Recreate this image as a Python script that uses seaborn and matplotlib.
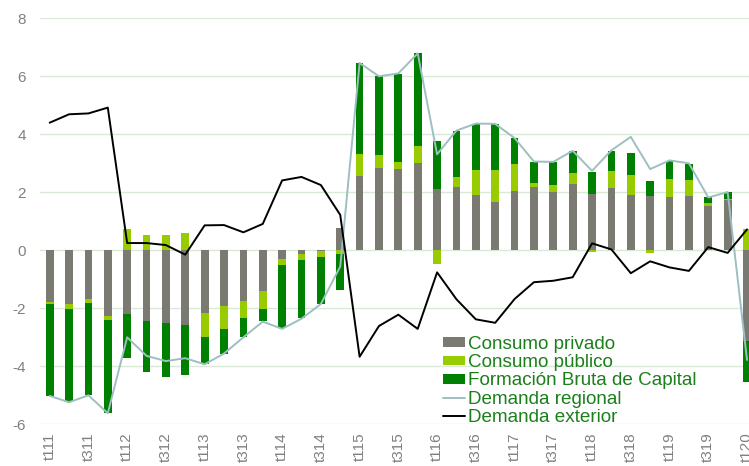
import matplotlib
matplotlib.use("Agg")
import matplotlib.pyplot as plt
import seaborn as sns
import numpy as np
import pandas as pd
from matplotlib.patches import Patch
from matplotlib.lines import Line2D

quarters = ["t111", "t211", "t311", "t411", "t112", "t212", "t312", "t412",
            "t113", "t213", "t313", "t413", "t114", "t214", "t314", "t414",
            "t115", "t215", "t315", "t415", "t116", "t216", "t316", "t416",
            "t117", "t217", "t317", "t417", "t118", "t218", "t318", "t418",
            "t119", "t219", "t319", "t419", "t120"]

consumo_privado = [-1.78, -1.85, -1.69, -2.26, -2.18, -2.45, -2.51, -2.56,
                   -2.16, -1.92, -1.75, -1.40, -0.30, -0.12, -0.02, 0.76,
                   2.57, 2.85, 2.82, 3.00, 2.11, 2.18, 1.92, 1.67,
                   2.05, 2.18, 2.01, 2.30, 1.93, 2.15, 1.90, 1.87,
                   1.84, 1.87, 1.54, 1.73, -3.13]
consumo_publico = [-0.08, -0.16, -0.14, -0.16, 0.75, 0.54, 0.54, 0.60,
                   -0.82, -0.78, -0.57, -0.62, -0.21, -0.22, -0.22, -0.13,
                   0.76, 0.44, 0.23, 0.61, -0.48, 0.36, 0.86, 1.10,
                   0.92, 0.14, 0.23, 0.38, -0.07, 0.60, 0.69, -0.09,
                   0.61, 0.55, 0.09, 0.05, 0.72]
formacion_capital = [-3.16, -3.23, -3.17, -3.20, -1.55, -1.74, -1.86, -1.75,
                     -0.95, -0.86, -0.68, -0.41, -2.18, -2.00, -1.62, -1.23,
                     3.13, 2.71, 3.03, 3.18, 1.66, 1.59, 1.59, 1.59,
                     0.91, 0.74, 0.80, 0.75, 0.78, 0.68, 0.75, 0.52,
                     0.62, 0.57, 0.20, 0.23, -1.41]
demanda_regional = [-5.02, -5.24, -5.00, -5.62, -3.00, -3.64, -3.82, -3.72,
                    -3.93, -3.56, -3.00, -2.46, -2.71, -2.36, -1.85, -0.56,
                    6.46, 6.00, 6.10, 6.79, 3.31, 4.13, 4.37, 4.36,
                    3.87, 3.06, 3.05, 3.43, 2.74, 3.45, 3.91, 2.80,
                    3.10, 3.00, 1.82, 2.01, -3.78]
demanda_exterior = [4.40, 4.69, 4.72, 4.92, 0.25, 0.25, 0.18, -0.15,
                    0.86, 0.87, 0.62, 0.91, 2.41, 2.53, 2.25, 1.22,
                    -3.67, -2.61, -2.22, -2.71, -0.76, -1.69, -2.38, -2.50,
                    -1.68, -1.10, -1.05, -0.93, 0.24, 0.03, -0.79, -0.38,
                    -0.59, -0.71, 0.11, -0.09, 0.72]

series_names = ["Consumo privado", "Consumo público", "Formación Bruta de Capital"]
line_names = ["Demanda regional", "Demanda exterior"]
yticks = [-6, -4, -2, 0, 2, 4, 6, 8]

c_priv = "#7A7A72"
c_pub = "#99CC00"
c_fbc = "#008000"
c_reg = "#9EBFC2"
c_ext = "#000000"
c_text = "#1B7F1B"
c_tick = "#808080"
c_grid = "#D8EAD6"

sns.set_theme(style="white")
plt.rcParams["font.family"] = ["Liberation Sans", "DejaVu Sans"]

fig = plt.figure(figsize=(7.49, 4.66), dpi=100)
ax = fig.add_axes([40 / 749, 41.7 / 466, 716.7 / 749, 406.0 / 466])

df = pd.DataFrame({"q": quarters,
                   series_names[0]: consumo_privado,
                   series_names[1]: consumo_publico,
                   series_names[2]: formacion_capital})

pos_base = np.zeros(len(quarters))
neg_base = np.zeros(len(quarters))
for name, col in zip(series_names, [c_priv, c_pub, c_fbc]):
    vals = df[name].to_numpy()
    bottom = np.where(vals >= 0, pos_base, neg_base)
    sns.barplot(x="q", y=name, data=df, order=quarters, color=col,
                saturation=1, errorbar=None, width=0.4, bottom=bottom,
                linewidth=0, ax=ax)
    pos_base = pos_base + np.where(vals >= 0, vals, 0)
    neg_base = neg_base + np.where(vals < 0, vals, 0)

xpos = np.arange(len(quarters))
sns.lineplot(x=xpos, y=demanda_regional, color=c_reg, linewidth=1.4,
             sort=False, estimator=None, ax=ax)
sns.lineplot(x=xpos, y=demanda_exterior, color=c_ext, linewidth=1.4,
             sort=False, estimator=None, ax=ax)

ax.set_xlim(-0.5, len(quarters) - 0.5)
ax.set_ylim(-6, 8)
ax.set_yticks(yticks)
ax.set_yticklabels([str(v) for v in yticks])
ax.set_xticks(xpos[::2])
ax.set_xticklabels(quarters[::2], rotation=90, va="top", ha="center")
ax.set_xlabel("")
ax.set_ylabel("")
ax.yaxis.grid(True, color=c_grid, linewidth=1.0)
ax.set_axisbelow(True)
for s in ax.spines.values():
    s.set_visible(False)
ax.tick_params(axis="y", length=0, pad=10, labelsize=11, labelcolor=c_tick)
ax.tick_params(axis="x", length=0, pad=6, labelsize=11, labelcolor=c_tick)

handles = [Patch(facecolor=c_priv, edgecolor="none"),
           Patch(facecolor=c_pub, edgecolor="none"),
           Patch(facecolor=c_fbc, edgecolor="none"),
           Line2D([], [], color=c_reg, linewidth=1.4),
           Line2D([], [], color=c_ext, linewidth=1.4)]
leg = fig.legend(handles, series_names + line_names, loc="upper left",
                 bbox_to_anchor=(443 / 749, 1 - 336 / 466), frameon=False,
                 fontsize=13.6, borderpad=0, borderaxespad=0,
                 handlelength=1.18, handleheight=0.42, handletextpad=0.15,
                 labelspacing=0.065)
for t in leg.get_texts():
    t.set_color(c_text)

fig.savefig("out.png", dpi=100)
